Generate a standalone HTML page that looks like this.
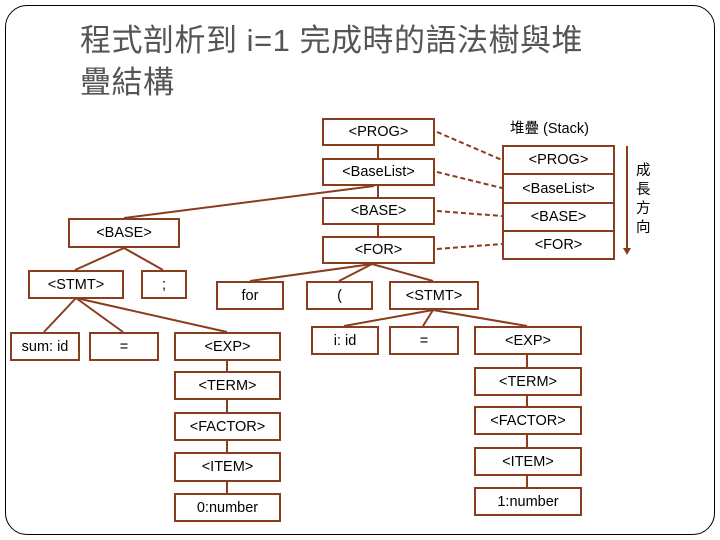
<!DOCTYPE html>
<html><head><meta charset="utf-8"><style>
body{margin:0;width:720px;height:540px;background:#fff;position:relative;overflow:hidden;font-family:"Liberation Sans","Noto Sans CJK TC",sans-serif}
.frame{position:absolute;left:5px;top:5px;width:708px;height:528px;border:1.5px solid #000;border-radius:22px}
.t{position:absolute;left:80px;top:20px;font-size:31px;line-height:42px;color:#555;letter-spacing:0.5px}
.b{position:absolute;box-sizing:border-box;border:2px solid #8a3c1e;background:#fff;font-size:14.5px;color:#000;display:flex;align-items:center;justify-content:center}
svg{position:absolute;left:0;top:0}
.l{position:absolute;font-size:14.5px}
</style></head><body>
<div class="frame"></div>
<div class="t">程式剖析到 i=1 完成時的語法樹與堆<br>疊結構</div>
<svg width="720" height="540">
<g stroke="#8a3c1e" stroke-width="2" fill="none">
<line x1="378" y1="145" x2="378" y2="158"/><line x1="378" y1="185" x2="378" y2="197"/><line x1="378" y1="224" x2="378" y2="236"/>
<line x1="374" y1="186" x2="124" y2="218"/>
<line x1="124" y1="248" x2="75" y2="270"/><line x1="124" y1="248" x2="163" y2="270"/>
<line x1="76" y1="298" x2="44" y2="332"/><line x1="76" y1="298" x2="123" y2="332"/><line x1="76" y1="298" x2="227" y2="332"/>
<line x1="372" y1="264" x2="250" y2="281"/><line x1="372" y1="264" x2="339" y2="281"/><line x1="372" y1="264" x2="433" y2="281"/>
<line x1="433" y1="310" x2="344" y2="326"/><line x1="433" y1="310" x2="423" y2="326"/><line x1="433" y1="310" x2="527" y2="326"/>
<line x1="227" y1="360" x2="227" y2="371"/><line x1="227" y1="399" x2="227" y2="412"/><line x1="227" y1="440" x2="227" y2="452"/><line x1="227" y1="481" x2="227" y2="493"/>
<line x1="527" y1="354" x2="527" y2="367"/><line x1="527" y1="395" x2="527" y2="406"/><line x1="527" y1="434" x2="527" y2="447"/><line x1="527" y1="475" x2="527" y2="487"/>
<g stroke-dasharray="5,3">
<line x1="437" y1="132" x2="502" y2="160"/><line x1="437" y1="172" x2="502" y2="188"/><line x1="437" y1="211" x2="502" y2="216"/><line x1="437" y1="249" x2="502" y2="244"/>
</g>
<line x1="627" y1="146" x2="627" y2="250"/>
</g>
<polygon points="623,248 631,248 627,255" fill="#8a3c1e"/>
</svg>
<div class="b" style="left:322px;top:118px;width:113px;height:28px">&lt;PROG&gt;</div>
<div class="b" style="left:322px;top:158px;width:113px;height:28px">&lt;BaseList&gt;</div>
<div class="b" style="left:322px;top:197px;width:113px;height:28px">&lt;BASE&gt;</div>
<div class="b" style="left:322px;top:236px;width:113px;height:28px">&lt;FOR&gt;</div>
<div class="l" style="left:510px;top:117px">堆疊 (Stack)</div>
<div class="b" style="left:502px;top:145px;width:113px;height:30px">&lt;PROG&gt;</div>
<div class="b" style="left:502px;top:173px;width:113px;height:31px">&lt;BaseList&gt;</div>
<div class="b" style="left:502px;top:202px;width:113px;height:30px">&lt;BASE&gt;</div>
<div class="b" style="left:502px;top:230px;width:113px;height:30px">&lt;FOR&gt;</div>
<div class="l" style="left:636px;top:162px;line-height:19px;width:16px">成<br>長<br>方<br>向</div>
<div class="b" style="left:68px;top:218px;width:112px;height:30px">&lt;BASE&gt;</div>
<div class="b" style="left:28px;top:270px;width:96px;height:29px">&lt;STMT&gt;</div>
<div class="b" style="left:141px;top:270px;width:46px;height:29px">;</div>
<div class="b" style="left:216px;top:281px;width:68px;height:29px">for</div>
<div class="b" style="left:306px;top:281px;width:67px;height:29px">(</div>
<div class="b" style="left:389px;top:281px;width:90px;height:29px">&lt;STMT&gt;</div>
<div class="b" style="left:10px;top:332px;width:70px;height:29px">sum: id</div>
<div class="b" style="left:89px;top:332px;width:70px;height:29px">=</div>
<div class="b" style="left:174px;top:332px;width:107px;height:29px">&lt;EXP&gt;</div>
<div class="b" style="left:311px;top:326px;width:68px;height:29px">i: id</div>
<div class="b" style="left:389px;top:326px;width:70px;height:29px">=</div>
<div class="b" style="left:474px;top:326px;width:108px;height:29px">&lt;EXP&gt;</div>
<div class="b" style="left:174px;top:371px;width:107px;height:29px">&lt;TERM&gt;</div>
<div class="b" style="left:174px;top:412px;width:107px;height:29px">&lt;FACTOR&gt;</div>
<div class="b" style="left:174px;top:452px;width:107px;height:30px">&lt;ITEM&gt;</div>
<div class="b" style="left:174px;top:493px;width:107px;height:29px">0:number</div>
<div class="b" style="left:474px;top:367px;width:108px;height:29px">&lt;TERM&gt;</div>
<div class="b" style="left:474px;top:406px;width:108px;height:29px">&lt;FACTOR&gt;</div>
<div class="b" style="left:474px;top:447px;width:108px;height:29px">&lt;ITEM&gt;</div>
<div class="b" style="left:474px;top:487px;width:108px;height:29px">1:number</div>
</body></html>
